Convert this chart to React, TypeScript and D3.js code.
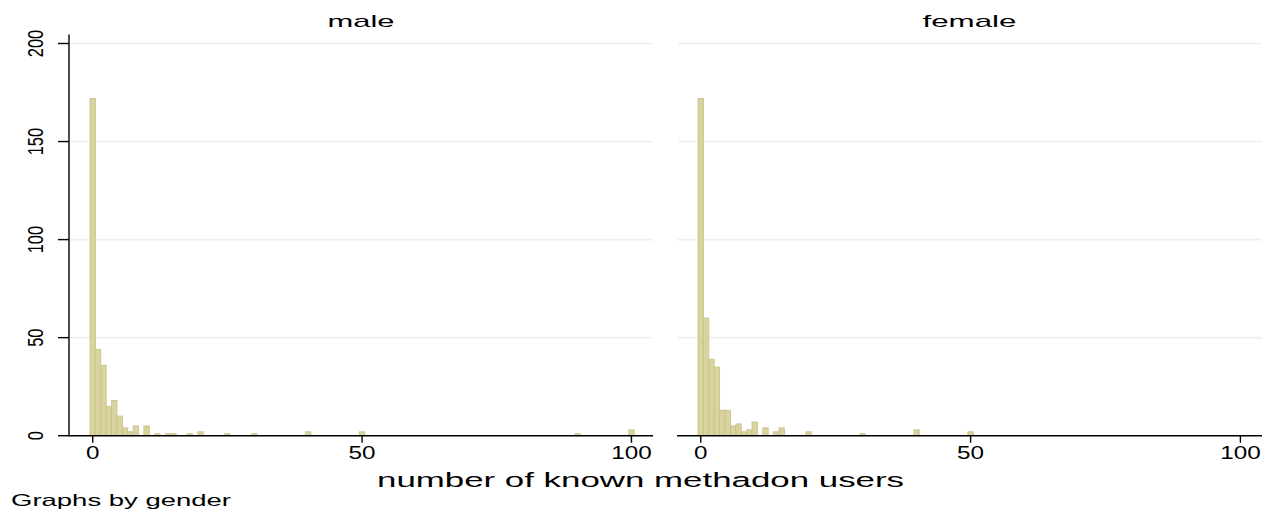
import * as d3 from "d3";

// histogram counts (discrete bins of width 1)
const maleValues = [0, 1, 2, 3, 4, 5, 6, 7, 8, 10, 12, 14, 15, 18, 20, 25, 30, 40, 50, 90, 100];
const maleCounts = [172, 44, 36, 15, 18, 10, 4, 2, 5, 5, 1, 1, 1, 1, 2, 1, 1, 2, 2, 1, 3];
const femaleValues = [0, 1, 2, 3, 4, 5, 6, 7, 8, 9, 10, 12, 14, 15, 20, 30, 40, 50];
const femaleCounts = [172, 60, 39, 35, 13, 13, 5, 6, 2, 3, 7, 4, 2, 4, 2, 1, 3, 2];

const xTicks = [0, 50, 100];
const yTicks = [0, 50, 100, 150, 200];
const panelTitles = ["male", "female"];

const W = 1277;
const H = 515;
const FONT = "'Liberation Sans', Arial, Helvetica, sans-serif";
const BAR_FILL = "#d9d3a0";
const BAR_STROKE = "#c9c085";
const GRID = "#e9f1f2";

const panels = [
  { left: 69, right: 653, titleLen: 67, values: maleValues, counts: maleCounts },
  { left: 677, right: 1262, titleLen: 94, values: femaleValues, counts: femaleCounts },
];

const plotTop = 34.5;
const plotBottom = 435.7;

const y = d3
  .scaleLinear()
  .domain([0, 200])
  .range([plotBottom, 43.5]);

function Panel({ idx }: { idx: number }) {
  const p = panels[idx];
  // domain edges chosen so 0 -> ~93px and 100 -> ~632px in the left panel
  const x = d3.scaleLinear().domain([-4.4, 104]).range([p.left, p.right]);
  const bw = x(1) - x(0);
  const bars = p.values.map((v, i) => ({ v, c: p.counts[i] }));
  const cx = (p.left + p.right) / 2;
  return (
    <g>
      {yTicks
        .filter((t) => t > 0)
        .map((t) => (
          <line
            key={"g" + t}
            x1={p.left + 1}
            x2={p.right}
            y1={y(t)}
            y2={y(t)}
            stroke={GRID}
            strokeWidth={1.6}
          />
        ))}
      {bars.map((b) => (
        <rect
          key={b.v}
          x={x(b.v) - bw / 2}
          y={y(b.c)}
          width={bw}
          height={plotBottom - y(b.c)}
          fill={BAR_FILL}
          stroke={BAR_STROKE}
          strokeWidth={0.8}
        />
      ))}
      <line x1={p.left} x2={p.right} y1={plotBottom} y2={plotBottom} stroke="#000" strokeWidth={1.4} />
      {xTicks.map((t) => (
        <g key={"x" + t}>
          <line x1={x(t)} x2={x(t)} y1={plotBottom} y2={plotBottom + 7} stroke="#000" strokeWidth={1.4} />
          <text
            x={x(t)}
            y={459}
            textAnchor="middle"
            fontSize={17.5}
            fontFamily={FONT}
            textLength={String(t).length * 13.5}
            lengthAdjust="spacingAndGlyphs"
          >
            {t}
          </text>
        </g>
      ))}
      <text
        x={cx}
        y={27.3}
        textAnchor="middle"
        fontSize={17}
        fontFamily={FONT}
        textLength={p.titleLen}
        lengthAdjust="spacingAndGlyphs"
      >
        {panelTitles[idx]}
      </text>
    </g>
  );
}

export default function App() {
  return (
    <svg
      width={W}
      height={H}
      style={{ position: "absolute", left: 0, top: 0, background: "#fff" }}
    >
      <rect width={W} height={H} fill="#fff" />
      <Panel idx={0} />
      <Panel idx={1} />
      {/* y axis only on the left panel */}
      <line x1={69} x2={69} y1={plotTop} y2={plotBottom + 0.7} stroke="#000" strokeWidth={1.4} />
      {yTicks.map((t) => (
        <g key={"y" + t}>
          <line x1={58} x2={69} y1={y(t)} y2={y(t)} stroke="#000" strokeWidth={1.4} />
          <text
            transform={`translate(43,${y(t)}) scale(1.3,1) rotate(-90)`}
            textAnchor="middle"
            fontSize={16.5}
            fontFamily={FONT}
          >
            {t}
          </text>
        </g>
      ))}
      <text
        x={640.5}
        y={487}
        textAnchor="middle"
        fontSize={20.5}
        fontFamily={FONT}
        textLength={527}
        lengthAdjust="spacingAndGlyphs"
      >
        number of known methadon users
      </text>
      <text
        x={11}
        y={506}
        fontSize={16.5}
        fontFamily={FONT}
        textLength={220}
        lengthAdjust="spacingAndGlyphs"
      >
        Graphs by gender
      </text>
    </svg>
  );
}
